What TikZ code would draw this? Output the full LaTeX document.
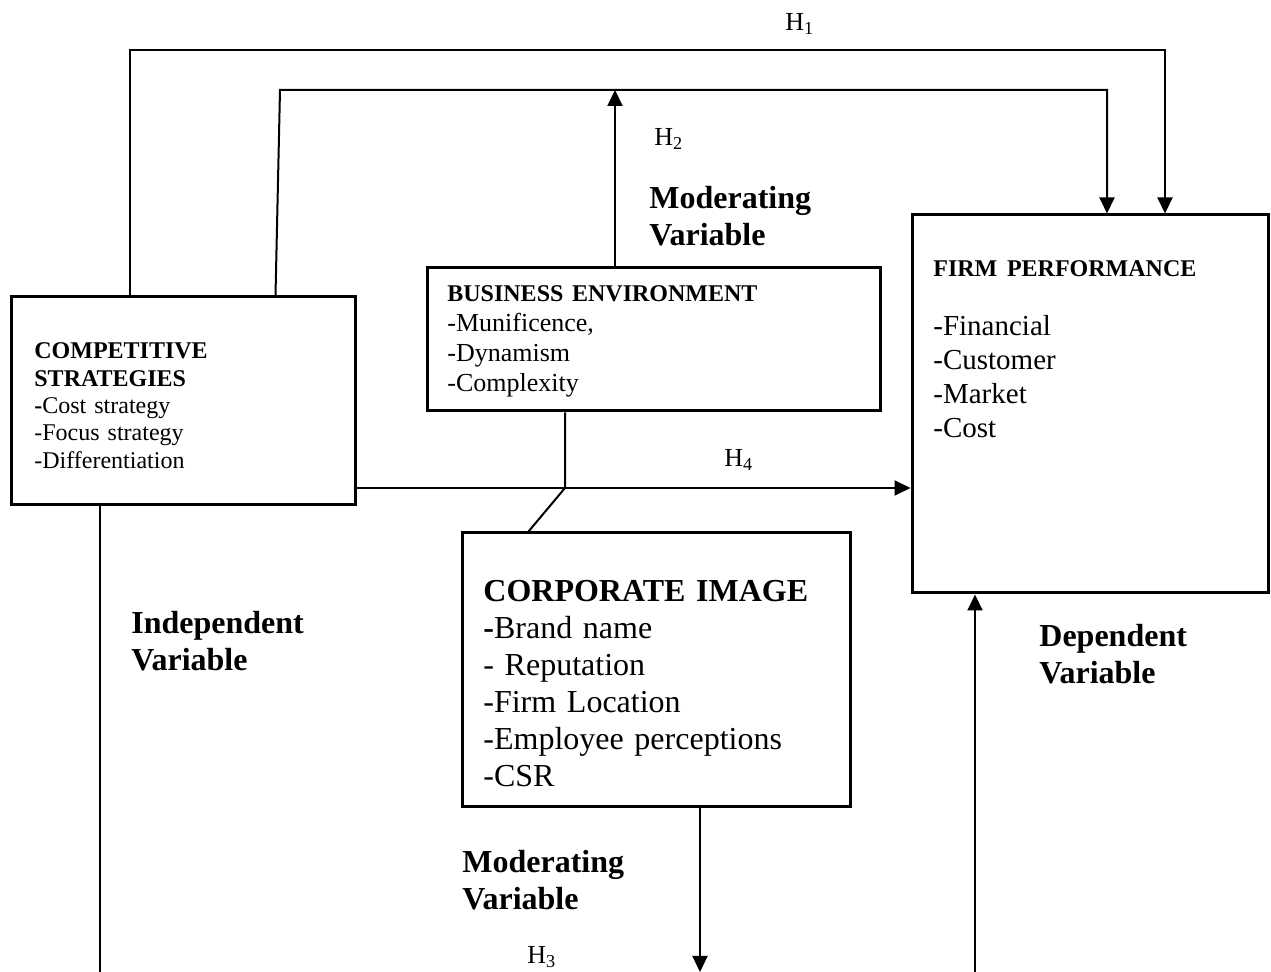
\documentclass[tikz,border=0pt]{standalone}
\usepackage{fontspec}
\setmainfont{Liberation Serif}
\usetikzlibrary{arrows.meta, calc}

\begin{document}
\begin{tikzpicture}[x=0.5pt, y=-0.5pt,
    box/.style={draw, line width=1.5pt, inner sep=0pt},
    boxtext/.style={anchor=base west, inner sep=0pt, align=left, text width=#1},
    hlabel/.style={anchor=base west, inner sep=0pt, font=\fontsize{13}{15}\selectfont},
    varlabel/.style={anchor=base west, inner sep=0pt, align=left, text width=110pt,
                     font=\bfseries\fontsize{16}{18.5}\selectfont},
    link/.style={line width=1pt},
    arrow/.style={link, -{Triangle[width=7.5pt, length=8pt]}}]
  \useasboundingbox (0,0) rectangle (1271,972);
  % Boxes
  \node[box, minimum width=172pt, minimum height=104pt] (cs) at (183,401) {};
  \node[box, minimum width=226.5pt, minimum height=71.5pt] (be) at (653.5,339.5) {};
  \node[box, minimum width=178pt, minimum height=189pt] (fp) at (1090,404) {};
  \node[box, minimum width=194pt, minimum height=137pt] (ci) at (656,670) {};
  % Box contents
  \node[boxtext=160pt, font=\fontsize{12}{13.65}\selectfont] (cstext) at (34,359)
    {{\bfseries COMPETITIVE\\STRATEGIES}\\\textbf{-}Cost strategy\\-Focus strategy\\-Differentiation};
  \node[boxtext=210pt, font=\fontsize{13}{15}\selectfont] (betext) at (447,302)
    {{\bfseries\fontsize{12}{15}\selectfont BUSINESS ENVIRONMENT}\\-Munificence,\\-Dynamism\\-Complexity};
  \node[boxtext=160pt, font=\fontsize{14.5}{17}\selectfont] (fptext) at (933,277)
    {{\bfseries\fontsize{12}{17}\selectfont FIRM PERFORMANCE}\\[12.5pt]-Financial\\-Customer\\-Market\\-Cost};
  \node[boxtext=180pt, font=\fontsize{16}{18.5}\selectfont] (citext) at (483,602)
    {{\bfseries CORPORATE IMAGE}\\\textbf{-}Brand name\\- Reputation\\-Firm Location\\-Employee perceptions\\-CSR};
  % Variable labels
  \node[varlabel] (modtop) at (649,209) {Moderating\\Variable};
  \node[varlabel] (indep) at (131,634) {Independent\\Variable};
  \node[varlabel] (dep) at (1039,647) {Dependent\\Variable};
  \node[varlabel] (modbot) at (462,873) {Moderating\\Variable};
  % Hypothesis labels
  \node[hlabel] (h1) at (785,31) {H\textsubscript{1}};
  \node[hlabel] (h2) at (654,146) {H\textsubscript{2}};
  \node[hlabel] (h3) at (527,964) {H\textsubscript{3}};
  \node[hlabel] (h4) at (724,467) {H\textsubscript{4}};
  % Connectors
  \coordinate (t1) at (130,50);
  \coordinate (t1r) at (1165,50);
  \coordinate (t2) at (280,90);
  \coordinate (t2r) at (1107,90);
  \coordinate (t2m) at (615,90);
  \coordinate (j) at (565,488);
  \coordinate (b0) at (100,972);
  \coordinate (b3) at (700,972);
  \coordinate (b4) at (975,972);
  \draw[arrow] (t1 |- cs.north) -- (t1) -- (t1r) -- (t1r |- fp.north);
  \draw[arrow] ($(cs.north west)+(266,0)$) -- (t2) -- (t2r) -- (t2r |- fp.north);
  \draw[arrow] (t2m |- be.north) -- (t2m);
  \draw[arrow] (j -| cs.east) -- (j -| fp.west);
  \draw[link] (j |- be.south) -- (j) -- ($(ci.north west)+(68,0)$);
  \draw[arrow] (b3 |- ci.south) -- (b3);
  \draw[link] (b0 |- cs.south) -- (b0);
  \draw[arrow] (b4) -- (b4 |- fp.south);
\end{tikzpicture}
\end{document}
